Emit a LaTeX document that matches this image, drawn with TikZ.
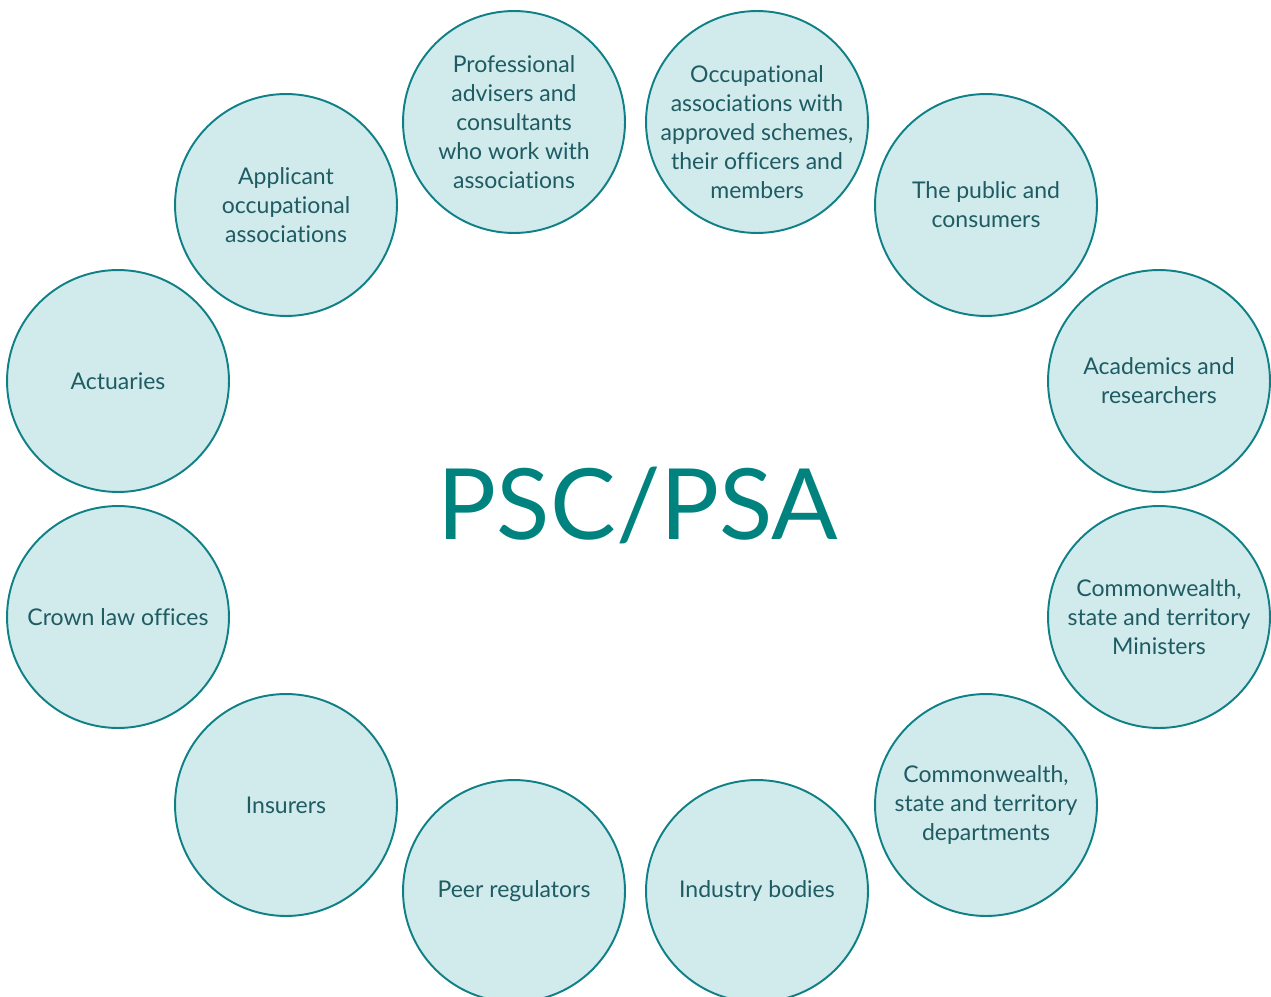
\documentclass[tikz,border=0pt]{standalone}
\usepackage{fontspec}
\setmainfont[Ligatures=NoCommon]{Lato}
\definecolor{ringline}{HTML}{0E8086}
\definecolor{ringfill}{HTML}{D1EBEC}
\definecolor{ringtext}{HTML}{1E5B63}
\definecolor{hubtext}{HTML}{00827F}
\tikzset{
  group/.style={circle, draw=ringline, fill=ringfill, line width=1.1pt,
    minimum size=4.44cm, inner sep=0pt, align=center, text=ringtext,
    font=\fontsize{13.1}{16.5}\selectfont},
  hub/.style={text=hubtext, font=\fontsize{56}{60}\selectfont}
}
\begin{document}
\begin{tikzpicture}[x=0.02cm, y=-0.02cm]
  \useasboundingbox (0,0) rectangle (1271,997);
  \begin{scope}
    \clip (0,0) rectangle (1271,997);
    \node[group] (prof) at (514,122) {Professional\\advisers and\\consultants\\who work with\\associations};
    \node[group] (occ) at (757,122) {};
    \node[ringtext, align=center, font=\fontsize{13.1}{16.5}\selectfont] (occtext) at (757,132) {Occupational\\associations with\\approved schemes,\\their officers and\\members};
    \node[group] (appl) at (286,205) {Applicant\\occupational\\associations};
    \node[group] (pub) at (986,205) {The public and\\consumers};
    \node[group] (act) at (118,381) {Actuaries};
    \node[group] (acad) at (1159,381) {Academics and\\researchers};
    \node[group] (crown) at (118,617) {Crown law offices};
    \node[group] (min) at (1159,617) {Commonwealth,\\state and territory\\Ministers};
    \node[group] (ins) at (286,805) {Insurers};
    \node[group] (dept) at (986,805) {Commonwealth,\\state and territory\\departments};
    \node[group] (peer) at (514,891) {Peer regulators};
    \node[group] (ind) at (757,891) {Industry bodies};
  \end{scope}
  % centre
  \node[hub] (psc) at (638,505) {PSC/PSA};
\end{tikzpicture}
\end{document}
